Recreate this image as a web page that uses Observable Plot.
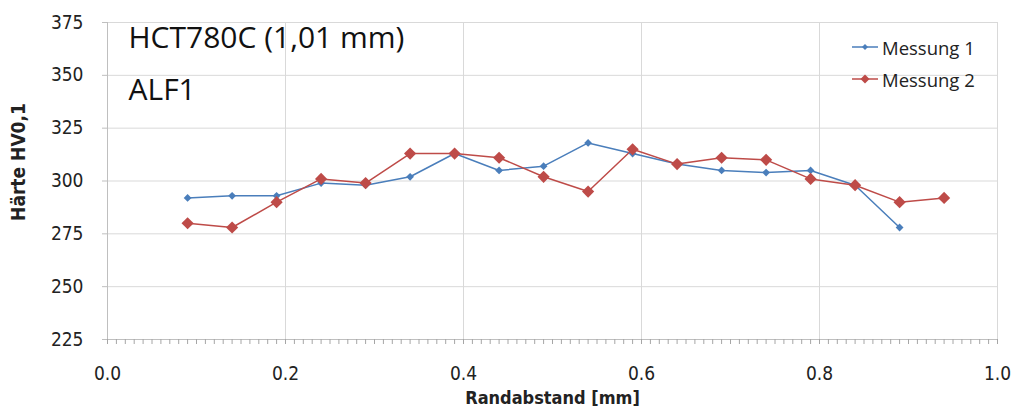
<!DOCTYPE html>
<html>
<head>
<meta charset="utf-8">
<script src="https://cdn.jsdelivr.net/npm/d3@7"></script>
<script src="https://cdn.jsdelivr.net/npm/@observablehq/plot@0.6"></script>
<style>
  html, body { margin: 0; padding: 0; background: #fff; }
  #wrap { position: relative; width: 1017px; height: 411px; }
  #legend { position: absolute; left: 851px; top: 31px; font-family: "Open Sans", sans-serif; font-size: 18.5px; color: #222; }
  #legend .row { display: flex; align-items: center; height: 32px; }
  #legend svg { margin-right: 3px; }
</style>
</head>
<body>
<div id="wrap"><div id="chart"></div><div id="legend"></div></div>
<script>
// Data
const distances = [0.09, 0.14, 0.19, 0.24, 0.29, 0.34, 0.39, 0.44, 0.49, 0.54, 0.59, 0.64, 0.69, 0.74, 0.79, 0.84, 0.89, 0.94];
const messung1 = [292, 293, 293, 299, 298, 302, 313, 305, 307, 318, 313, 308, 305, 304, 305, 298, 278, null];
const messung2 = [280, 278, 290, 301, 299, 313, 313, 311, 302, 295, 315, 308, 311, 310, 301, 298, 290, 292];
const seriesNames = ["Messung 1", "Messung 2"];
const seriesColors = ["#4a7ebb", "#be4b48"];
const xTicks = [0, 0.2, 0.4, 0.6, 0.8, 1.0];
const yTicks = [225, 250, 275, 300, 325, 350, 375];
const minorXTicks = d3.range(0, 101).map(i => i / 100);
const titleLines = ["HCT780C (1,01 mm)", "ALF1"];
const xLabel = "Randabstand [mm]";
const yLabel = "Härte HV0,1";

const rows = [];
[messung1, messung2].forEach((vals, s) => {
  distances.forEach((d, i) => {
    if (vals[i] != null) rows.push({x: d, y: vals[i], series: seriesNames[s]});
  });
});

const tickFont = '"Liberation Sans Narrow", "DejaVu Sans Condensed", sans-serif';

const chart = Plot.plot({
  width: 1017,
  height: 411,
  marginLeft: 107,
  marginRight: 20,
  marginTop: 22,
  marginBottom: 72,
  style: {fontFamily: tickFont, fontSize: "19px", color: "#222", background: "#fff"},
  x: {domain: [0, 1]},
  y: {domain: [225, 375]},
  color: {domain: seriesNames, range: seriesColors},
  marks: [
    Plot.ruleY(yTicks.slice(1), {stroke: "#d9d9d9", strokeWidth: 1}),
    Plot.ruleX(xTicks.slice(1), {stroke: "#d9d9d9", strokeWidth: 1}),
    Plot.ruleX([0], {stroke: "#bfbfbf", strokeWidth: 1}),
    Plot.ruleY([225], {stroke: "#bfbfbf", strokeWidth: 1}),
    Plot.axisX({ticks: minorXTicks, tickSize: 5, tickFormat: () => "", stroke: "#a6a6a6", strokeOpacity: 1, label: null}),
    Plot.axisX({ticks: xTicks, tickSize: 0, tickPadding: 27, tickFormat: d3.format(".1f"), fontSize: 19, label: null}),
    Plot.axisY({ticks: yTicks, tickSize: 5, tickPadding: 19, stroke: "#bfbfbf", strokeOpacity: 1, fontSize: 19, label: null}),
    Plot.text([xLabel], {frameAnchor: "bottom", lineAnchor: "middle", dy: 59, fontWeight: "bold", fontSize: 18, fontFamily: tickFont}),
    Plot.text([yLabel], {frameAnchor: "left", textAnchor: "middle", lineAnchor: "middle", rotate: -90, dx: -89, dy: -19, fontWeight: "bold", fontSize: 19, fontFamily: tickFont}),
    Plot.line(rows, {x: "x", y: "y", z: "series", stroke: "series", strokeWidth: 1.5}),
    Plot.dot(rows.filter(d => d.series === seriesNames[0]), {x: "x", y: "y", symbol: "diamond2", r: 3.5, fill: "series", stroke: null}),
    Plot.dot(rows.filter(d => d.series === seriesNames[1]), {x: "x", y: "y", symbol: "diamond2", r: 5.5, fill: "series", stroke: null}),
    Plot.text([titleLines[0]], {frameAnchor: "top-left", dx: 21, dy: 16, lineAnchor: "middle", textAnchor: "start", fontSize: 30, fontFamily: '"Open Sans", sans-serif', fill: "#111"}),
    Plot.text([titleLines[1]], {frameAnchor: "top-left", dx: 21, dy: 68, lineAnchor: "middle", textAnchor: "start", fontSize: 30, fontFamily: '"Open Sans", sans-serif', fill: "#111"})
  ]
});
document.getElementById("chart").appendChild(chart);

// Legend
const legend = document.getElementById("legend");
seriesNames.forEach((name, i) => {
  const row = document.createElement("div");
  row.className = "row";
  const r = i === 0 ? 3 : 4.5;
  row.innerHTML = `<svg width="28" height="14"><line x1="1" x2="27" y1="7" y2="7" stroke="${seriesColors[i]}" stroke-width="1.5"/><path d="M14,${7 - r}L${14 + r},7L14,${7 + r}L${14 - r},7Z" fill="${seriesColors[i]}"/></svg><span>${name}</span>`;
  legend.appendChild(row);
});
</script>
</body>
</html>
